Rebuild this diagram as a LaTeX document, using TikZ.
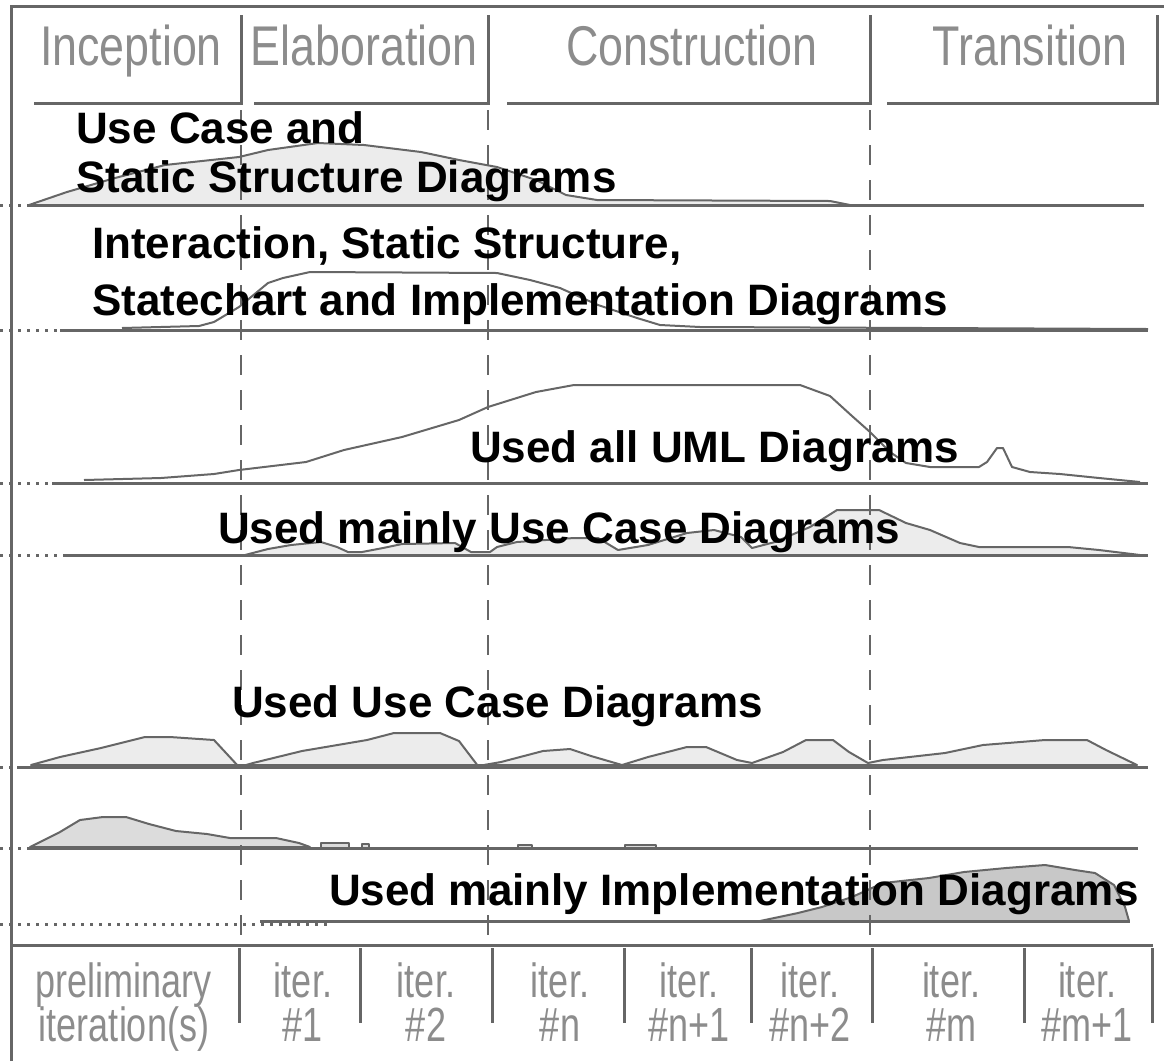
\documentclass[tikz,border=0pt]{standalone}
\usepackage{fontspec}
\setmainfont{Liberation Sans}
\newfontfamily\phasefont[FakeStretch=0.8]{Liberation Sans}
\newfontfamily\iterfont[FakeStretch=0.75]{Liberation Sans}
\definecolor{linegray}{HTML}{666666}
\definecolor{txtgray}{HTML}{8C8C8C}
\definecolor{fillA}{HTML}{ECECEC}
\definecolor{fillB}{HTML}{DCDCDC}
\definecolor{fillC}{HTML}{C8C8C8}
\begin{document}
\begin{tikzpicture}[x=1pt,y=-1pt,
  frameline/.style={draw=linegray,line width=3pt},
  baseline/.style={draw=linegray,line width=3pt},
  leadin/.style={draw=linegray,line width=3pt,dash pattern=on 3pt off 6pt},
  curve/.style={draw=linegray,line width=2pt,line join=round},
  phasesep/.style={draw=linegray,line width=2.5pt,dash pattern=on 20pt off 15pt},
  biglabel/.style={font=\fontsize{44}{50}\selectfont\bfseries,anchor=base west,inner sep=0pt},
  phaselabel/.style={font=\phasefont\fontsize{56}{60}\selectfont,text=txtgray,anchor=base,inner sep=0pt},
  iterlabel/.style={font=\iterfont\fontsize{48}{50}\selectfont,text=txtgray,anchor=base,inner sep=0pt}]
\useasboundingbox (0,0) rectangle (1164,1061);

% ---------- curves ----------
% row 1
\filldraw[curve,fill=fillA] (29,205) -- (67,192) -- (115,178) -- (165,165) -- (239,157) -- (268,150)
  -- (318,143) -- (364,145) -- (421,152) -- (459,160) -- (497,167) -- (536,180) -- (566,195)
  -- (597,200) -- (830,201) -- (850,205) -- cycle;
% row 2
\draw[curve] (122,328) -- (199,326) -- (214,322) -- (239,307) -- (268,283) -- (283,278) -- (310,272)
  -- (497,273) -- (530,280) -- (560,288) -- (598,305) -- (637,318) -- (660,325) -- (700,327) -- (1148,329);
% row 3
\draw[curve] (84,480) -- (161,478) -- (214,474) -- (239,470) -- (306,462) -- (344,450) -- (402,437)
  -- (459,420) -- (488,407) -- (536,392) -- (574,385) -- (800,385) -- (830,396) -- (852,416)
  -- (870,432) -- (890,452) -- (906,463) -- (930,467) -- (979,467) -- (987,462) -- (997,448)
  -- (1003,448) -- (1012,467) -- (1030,472) -- (1060,474) -- (1099,478) -- (1140,482);
% row 4
\filldraw[curve,fill=fillA] (245,555) -- (268,549) -- (291,545) -- (321,542) -- (337,547) -- (348,552)
  -- (362,552) -- (383,548) -- (402,544) -- (455,543) -- (471,552) -- (490,552) -- (497,547)
  -- (517,542) -- (574,538) -- (598,538) -- (618,550) -- (648,545) -- (687,533) -- (714,530)
  -- (741,537) -- (752,548) -- (775,542) -- (810,527) -- (837,510) -- (879,510) -- (906,523)
  -- (930,530) -- (960,543) -- (979,547) -- (1068,547) -- (1099,550) -- (1140,555) -- cycle;
% row 5
\filldraw[curve,fill=fillA] (31,765) -- (60,757) -- (101,748) -- (145,737) -- (170,737) -- (214,740)
  -- (239,767) -- (253,763) -- (302,751) -- (367,740) -- (394,733) -- (440,733) -- (459,741)
  -- (478,766) -- (501,762) -- (543,751) -- (570,749) -- (591,756) -- (622,765) -- (648,757)
  -- (687,747) -- (706,747) -- (737,760) -- (752,763) -- (783,752) -- (806,740) -- (833,740)
  -- (849,752) -- (868,763) -- (883,760) -- (945,753) -- (983,745) -- (1045,740) -- (1087,740)
  -- (1106,750) -- (1137,765) -- cycle;
% row 6
\filldraw[curve,fill=fillB] (30,847) -- (60,832) -- (80,820) -- (103,817) -- (126,817) -- (149,824)
  -- (176,831) -- (207,834) -- (230,838) -- (276,838) -- (299,843) -- (310,847) -- cycle;
\filldraw[curve,fill=fillB] (321,848) rectangle (349,843);
\filldraw[curve,fill=fillB] (362,848) rectangle (369,844);
\filldraw[curve,fill=fillB] (518,848) rectangle (532,845);
\filldraw[curve,fill=fillB] (625,848) rectangle (656,845);
% row 7
\filldraw[curve,fill=fillC] (760,921) -- (798,913) -- (822,907) -- (852,897) -- (883,883) -- (929,878)
  -- (964,872) -- (1006,868) -- (1045,865) -- (1075,870) -- (1095,873) -- (1114,885)
  -- (1125,907) -- (1129,921) -- cycle;

% ---------- row baselines ----------
\draw[baseline] (30,205) -- (1144,205);   \draw[leadin] (0,205) -- (30,205);
\draw[baseline] (60,330) -- (1148,330);   \draw[leadin] (0,330) -- (60,330);
\draw[baseline] (52,483) -- (1148,483);   \draw[leadin] (0,483) -- (52,483);
\draw[baseline] (65,555) -- (1148,555);   \draw[leadin] (0,555) -- (65,555);
\draw[baseline] (17,767) -- (1148,767);   \draw[leadin] (0,767) -- (17,767);
\draw[baseline] (28,848) -- (1138,848);   \draw[leadin] (0,848) -- (28,848);
\draw[baseline] (260,921) -- (1130,921);  \draw[leadin] (0,924) -- (330,924);

% ---------- frame and phase header ----------
\draw[frameline] (11,1061) -- (11,6) -- (1164,6);
\draw[frameline] (34,103) -- (241,103) -- (241,15);
\draw[frameline] (254,103) -- (488,103) -- (488,15);
\draw[frameline] (507,103) -- (870,103) -- (870,15);
\draw[frameline] (887,103) -- (1157,103) -- (1157,15);
\node[phaselabel] (inc) at (131,65) {Inception};
\node[phaselabel] (ela) at (364,65) {Elaboration};
\node[phaselabel] (con) at (692,65) {Construction};
\node[phaselabel] (tra) at (1030,65) {Transition};

% ---------- phase separators ----------
\draw[phasesep] (241,110) -- (241,945);
\draw[phasesep] (488,110) -- (488,945);
\draw[phasesep] (870,110) -- (870,945);

% ---------- iteration row ----------
\draw[frameline] (11,945) -- (1153,945);
\foreach \xx in {239,360,492,624,751,872,1024,1152}
  \draw[frameline] (\xx,948) -- (\xx,1023);
\node[iterlabel] (p1) at (124,997) {preliminary};
\node[iterlabel] (p2) at (124,1041) {iteration(s)};
\node[iterlabel] (i1a) at (303,997) {iter.};
\node[iterlabel] (i1b) at (303,1041) {\#1};
\node[iterlabel] (i2a) at (426,997) {iter.};
\node[iterlabel] (i2b) at (426,1041) {\#2};
\node[iterlabel] (ina) at (560,997) {iter.};
\node[iterlabel] (inb) at (560,1041) {\#n};
\node[iterlabel] (in1a) at (689,997) {iter.};
\node[iterlabel] (in1b) at (689,1041) {\#n+1};
\node[iterlabel] (in2a) at (810,997) {iter.};
\node[iterlabel] (in2b) at (810,1041) {\#n+2};
\node[iterlabel] (ima) at (951,997) {iter.};
\node[iterlabel] (imb) at (951,1041) {\#m};
\node[iterlabel] (im1a) at (1087,997) {iter.};
\node[iterlabel] (im1b) at (1087,1041) {\#m+1};

% ---------- row labels ----------
\node[biglabel] (r1a) at (76,143) {Use Case and};
\node[biglabel] (r1b) at (76,192) {Static Structure Diagrams};
\node[biglabel] (r2a) at (92,258) {Interaction, Static Structure,};
\node[biglabel] (r2b) at (92,315) {Statechart and Implementation Diagrams};
\node[biglabel] (r3) at (470,462) {Used all UML Diagrams};
\node[biglabel] (r4) at (218,543) {Used mainly Use Case Diagrams};
\node[biglabel] (r5) at (232,717) {Used Use Case Diagrams};
\node[biglabel] (r7) at (329,905) {Used mainly Implementation Diagrams};
\end{tikzpicture}
\end{document}
